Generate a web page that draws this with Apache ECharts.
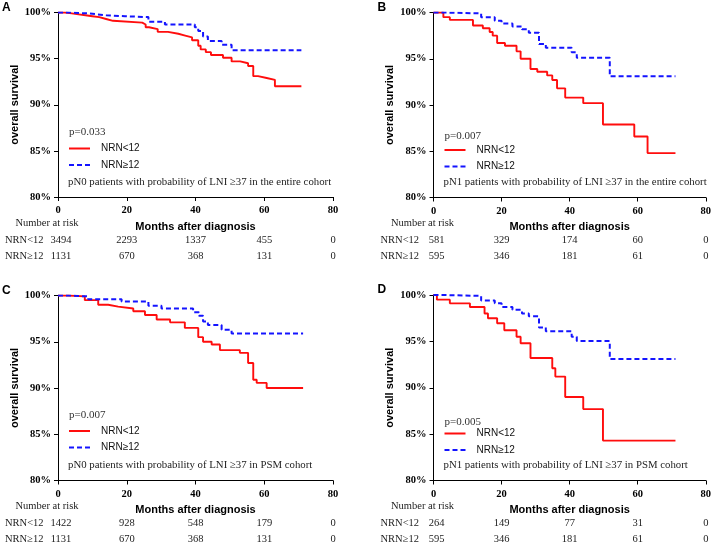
<!DOCTYPE html>
<html><head><meta charset="utf-8">
<script src="https://cdn.jsdelivr.net/npm/echarts@6/dist/echarts.min.js"></script>
<style>html,body{margin:0;padding:0;background:#fff}#c{width:714px;height:543px}</style>
</head><body><div id="c"></div>
<script>
// ---- data ----
const panelLetters = ['A','B','C','D'];
const pValues = ['p=0.033','p=0.007','p=0.007','p=0.005'];
const captions = [
  'pN0 patients with probability of LNI \u226537 in the entire cohort',
  'pN1 patients with probability of LNI \u226537 in the entire cohort',
  'pN0 patients with probability of LNI \u226537 in PSM cohort',
  'pN1 patients with probability of LNI \u226537 in PSM cohort'
];
const groupNames = ['NRN<12','NRN\u226512'];
const xTicks = [0,20,40,60,80];
const yTicks = [80,85,90,95,100];

const redA = [[0,100],[2,99.9],[4,99.8],[6,99.7],[8,99.6],[10,99.5],[12,99.3],[14,99.1],[16,98.9],[24.5,98.7],[25.5,98.4],[26.5,98.2],[29,97.9],[32,97.7],[35,97.5],[37,97.3],[39,97.0],[40.8,96.4],[41.5,96.0],[43,95.7],[44.5,95.4],[48,95.1],[50.5,94.7],[53,94.5],[55.3,94.2],[56.8,93.1],[58.2,92.9],[60.7,92.7],[63.1,92.0],[70.8,92.0]];
const blueA = [[0,100],[3,99.9],[8.8,99.7],[14,99.6],[19.5,99.5],[26.3,99.0],[31.1,98.7],[39.8,98.4],[40.8,98.0],[42.2,97.4],[43.6,96.9],[47.6,96.5],[50.5,95.9],[70.8,95.9]];
const redB = [[0,100],[2.9,99.5],[4.8,99.2],[11.6,98.6],[14.5,98.3],[16.5,97.9],[17.4,97.5],[18.7,96.7],[21,96.4],[24.4,95.8],[25.6,95.0],[28.5,93.9],[30.5,93.6],[33.4,93.2],[34.9,92.7],[36.3,91.8],[38.7,90.8],[44,90.2],[49.8,87.9],[59,86.6],[62.9,84.8],[71.1,84.8]];
const blueB = [[0,100],[3,99.9],[14,99.5],[18,99.1],[20,98.8],[23.2,98.5],[26,98.2],[28,97.8],[31,96.6],[33,96.2],[40.6,95.7],[42.1,95.1],[51.8,93.1],[71.1,93.1]];
const redC = [[0,100],[3,99.9],[7.8,99.5],[11.7,99.0],[14.6,98.8],[17.5,98.6],[21.9,98.3],[25.3,97.9],[28.7,97.4],[32.6,97.1],[36.9,96.5],[40.8,95.5],[42.2,95.0],[44.7,94.7],[47.1,94.1],[52.9,93.8],[55.3,92.7],[56.8,90.9],[57.8,90.55],[60.7,90.0],[71.3,90.0]];
const blueC = [[0,100],[3,99.9],[8.8,99.6],[18.5,99.35],[26.3,98.9],[30.1,98.6],[39.3,98.2],[41,97.8],[42.2,97.2],[43.6,96.8],[47.6,96.3],[50.5,95.9],[71.3,95.9]];
const redD = [[0,100],[1,99.5],[4.8,99.1],[10.7,98.7],[15,98.0],[16,97.5],[18.7,96.95],[20.8,96.2],[24.4,95.5],[25.6,94.8],[28.5,93.2],[34.9,92.1],[35.8,91.2],[38.7,89.0],[44,87.7],[49.8,84.3],[71.1,84.3]];
const blueD = [[0,100],[3,99.9],[14,99.4],[18,99.1],[20,98.7],[23.2,98.4],[26,98.0],[28,97.7],[31,96.5],[33,96.1],[40.6,95.5],[42.1,95.05],[51.8,93.1],[71.1,93.1]];

const riskLoA = [3494,2293,1337,455,0];
const riskHiA = [1131,670,368,131,0];
const riskLoB = [581,329,174,60,0];
const riskHiB = [595,346,181,61,0];
const riskLoC = [1422,928,548,179,0];
const riskHiC = [1131,670,368,131,0];
const riskLoD = [264,149,77,31,0];
const riskHiD = [595,346,181,61,0];

// ---- layout ----
const grids = [
  {left:58, top:12.5, width:275, height:184.5},
  {left:433.5, top:12.5, width:275.5, height:185},
  {left:58, top:295.5, width:275, height:185},
  {left:433.5, top:295, width:275.5, height:185.5}
];
const pOffset = [120, 123.5, 120, 127];
const legendOffset = [131, 132.5, 130.5, 133.5];
const redSeries = [redA, redB, redC, redD];
const blueSeries = [blueA, blueB, blueC, blueD];
const riskLo = [riskLoA, riskLoB, riskLoC, riskLoD];
const riskHi = [riskHiA, riskHiB, riskHiC, riskHiD];

const RED = '#ff0d0d', BLUE = '#1414ff';
const SERIF = '"Liberation Serif","Times New Roman",serif';
const SANS = '"Liberation Sans",Arial,sans-serif';

const option = {
  animation:false,
  backgroundColor:'#fff',
  grid: grids.map(g => Object.assign({containLabel:false}, g)),
  xAxis: grids.map((g,i) => ({
    type:'value', gridIndex:i, min:0, max:80, interval:20,
    name:'Months after diagnosis', nameLocation:'middle', nameGap:24,
    nameTextStyle:{fontFamily:SANS, fontWeight:'bold', fontSize:11, color:'#000'},
    axisLine:{lineStyle:{color:'#000', width:1}},
    axisTick:{show:true, length:4, lineStyle:{color:'#000'}},
    axisLabel:{margin:8, fontFamily:SERIF, fontWeight:'bold', fontSize:10.5, color:'#000'},
    splitLine:{show:false}
  })),
  yAxis: grids.map((g,i) => ({
    type:'value', gridIndex:i, min:80, max:100, interval:5,
    name:'overall survival', nameLocation:'middle', nameGap:38, nameRotate:90,
    nameTextStyle:{fontFamily:SANS, fontWeight:'bold', fontSize:11, color:'#000'},
    axisLine:{show:true, lineStyle:{color:'#000', width:1}},
    axisTick:{show:true, length:4, lineStyle:{color:'#000'}},
    axisLabel:{margin:7, fontFamily:SERIF, fontWeight:'bold', fontSize:10.5, color:'#000', formatter:'{value}%'},
    splitLine:{show:false}
  })),
  legend: grids.map((g,i) => ({
    orient:'vertical', left:g.left+10, top:g.top+legendOffset[i], padding:0,
    itemWidth:21, itemHeight:12, itemGap:6.5,
    data:groupNames, selectedMode:false,
    itemStyle:{opacity:0},
    textStyle:{fontFamily:SANS, fontSize:10, color:'#111', padding:[0,0,0,6]}
  })),
  series: []
};
grids.forEach((g,i) => {
  option.series.push({
    name:groupNames[0], type:'line', step:'end', xAxisIndex:i, yAxisIndex:i,
    data:redSeries[i], symbol:'none', color:RED,
    lineStyle:{color:RED, width:1.9}
  });
  option.series.push({
    name:groupNames[1], type:'line', step:'end', xAxisIndex:i, yAxisIndex:i,
    data:blueSeries[i], symbol:'none', color:BLUE,
    lineStyle:{color:BLUE, width:2, type:[5,3]}
  });
});

const chart = echarts.init(document.getElementById('c'), null, {renderer:'canvas'});
chart.setOption(option);

// text elements: panel letters, p-values, captions, risk tables
const gfx = [];
grids.forEach((g,i) => {
  const bottom = g.top + g.height;
  gfx.push({type:'text', left:g.left-56, top:g.top-11,
    style:{text:panelLetters[i], font:'bold 12px '+SANS, fill:'#000'}});
  gfx.push({type:'text', x:g.left+11, y:g.top+pOffset[i], style:{text:pValues[i], font:'11px '+SERIF, fill:'#333', verticalAlign:'middle'}});
  gfx.push({type:'text', x:g.left+10, y:g.top+170, style:{text:captions[i], font:'10.8px '+SERIF, fill:'#222', verticalAlign:'middle'}});
  gfx.push({type:'text', x:g.left-11, y:bottom+26, style:{text:'Number at risk', font:'10.5px '+SERIF, fill:'#222', align:'center', verticalAlign:'middle'}});
  gfx.push({type:'text', x:g.left-53, y:bottom+43, style:{text:groupNames[0], font:'10.5px '+SERIF, fill:'#222', verticalAlign:'middle'}});
  gfx.push({type:'text', x:g.left-53, y:bottom+59, style:{text:groupNames[1], font:'10.5px '+SERIF, fill:'#222', verticalAlign:'middle'}});
  xTicks.forEach((m,k) => {
    const px = chart.convertToPixel({xAxisIndex:i}, m);
    gfx.push({type:'text', x:px + (k===0?3:0), y:bottom+43, style:{text:String(riskLo[i][k]), font:'10.5px '+SERIF, fill:'#222', align:'center', verticalAlign:'middle'}});
    gfx.push({type:'text', x:px + (k===0?3:0), y:bottom+59, style:{text:String(riskHi[i][k]), font:'10.5px '+SERIF, fill:'#222', align:'center', verticalAlign:'middle'}});
  });
});
chart.setOption({graphic: gfx});
</script></body></html>
